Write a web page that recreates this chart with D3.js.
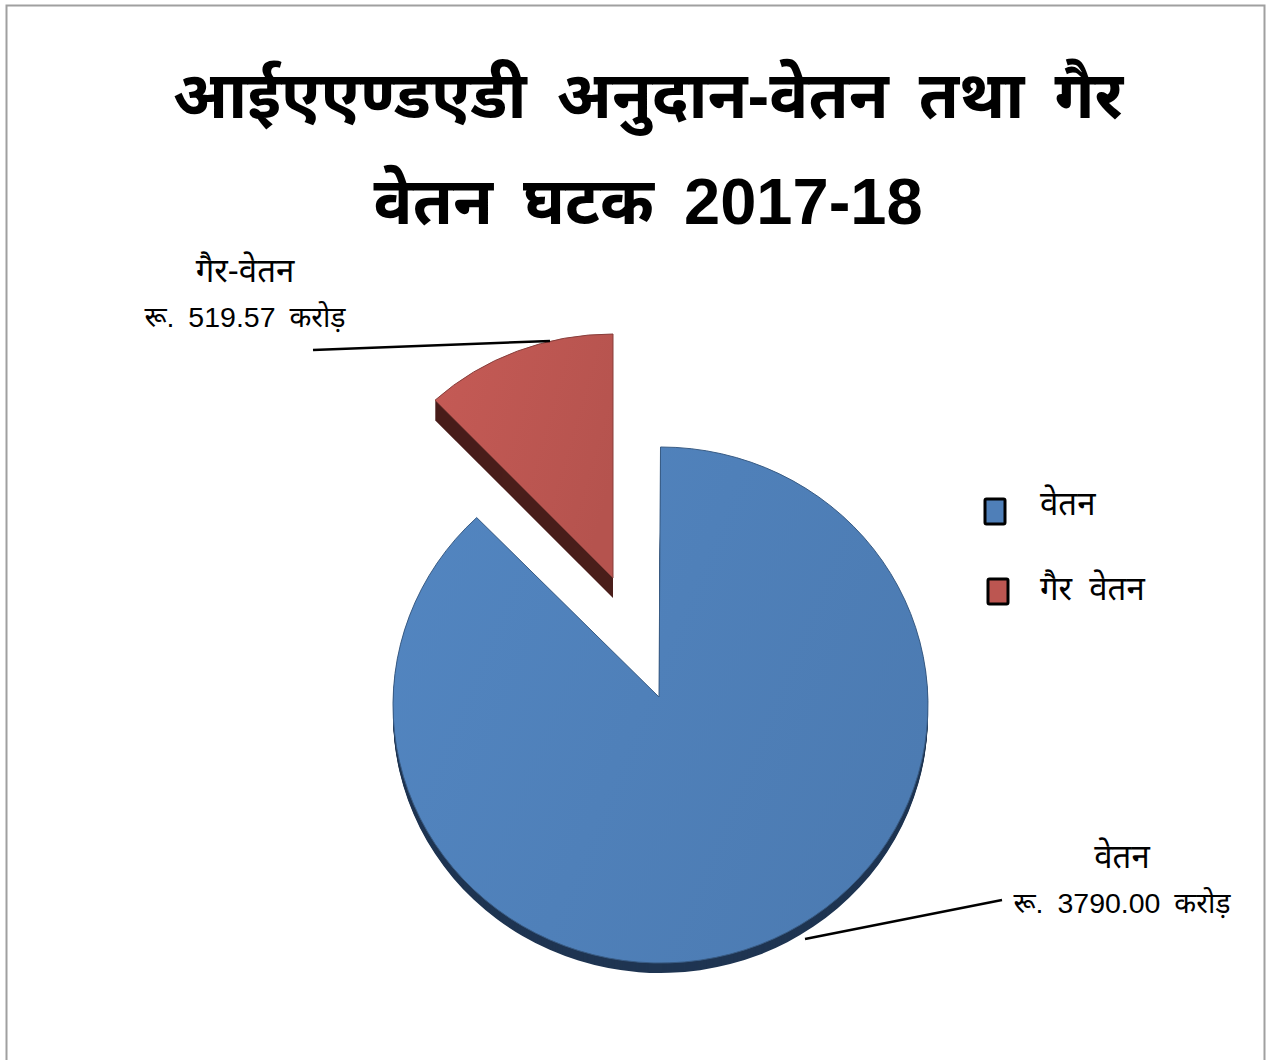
<!DOCTYPE html>
<html>
<head>
<meta charset="utf-8">
<script src="https://cdn.jsdelivr.net/npm/d3@7"></script>
<style>
  html, body { margin: 0; padding: 0; background: #fff; }
  svg { display: block; }
  text { font-family: "Liberation Sans", "Noto Sans", sans-serif; fill: #000; }
</style>
</head>
<body>
<svg width="1269" height="1060"></svg>
<script>
var categories = ["वेतन", "गैर वेतन"];
var values = [3790.00, 519.57];
var colors = ["#4f7fb8", "#bc5651"];
var sideColors = ["#1f3552", "#4a1e1b"];
var titleLines = ["आईएएण्डएडी अनुदान-वेतन तथा गैर", "वेतन घटक 2017-18"];
var labelNames = ["वेतन", "गैर-वेतन"];
var labelValues = ["रू. 3790.00 करोड़", "रू. 519.57 करोड़"];

var svg = d3.select("svg");

// frame
svg.append("path").attr("d", "M6.5,1060V5.5H1264.5V1060").attr("fill", "none").attr("stroke", "#a0a0a0").attr("stroke-width", 2);

svg.selectAll(".title").data(titleLines).enter().append("text")
  .attr("class", "title")
  .attr("x", 648)
  .attr("y", function (d, i) { return 118 + i * 106 })
  .attr("text-anchor", "middle")
  .attr("font-size", 65)
  .attr("font-weight", 700)
  .attr("word-spacing", 12)
  .text(function (d) { return d });

var pie = d3.pie().sort(null).value(function (d) { return d });
var arcs = pie(values);

// the picture has perspective, so apex and ellipse centre are not the same point
var shapes = [
  { apex: [659, 697], center: [660.5, 705], rx: 267.5, ry: 258, depth: 10 },
  { apex: [613, 578], center: [613, 576], rx: 259, ry: 242, depth: 20 }
];

function slicePath(d, s) {
  var x0 = s.center[0] + s.rx * Math.sin(d.startAngle),
    y0 = s.center[1] - s.ry * Math.cos(d.startAngle),
    x1 = s.center[0] + s.rx * Math.sin(d.endAngle),
    y1 = s.center[1] - s.ry * Math.cos(d.endAngle),
    large = d.endAngle - d.startAngle > Math.PI ? 1 : 0;
  return "M" + s.apex + "L" + x0 + "," + y0 + "A" + s.rx + "," + s.ry + " 0 " + large + " 1 " + x1 + "," + y1 + "Z";
}

var defs = svg.append("defs");
colors.forEach(function (c, i) {
  var g = defs.append("linearGradient").attr("id", "grad" + i).attr("x1", 0).attr("x2", 1).attr("y1", 0.2).attr("y2", 0.6);
  g.append("stop").attr("offset", "0%").attr("stop-color", d3.color(c).brighter(0.12));
  g.append("stop").attr("offset", "100%").attr("stop-color", d3.color(c).darker(0.1));
});

var g = svg.selectAll(".slice").data(arcs).enter().append("g").attr("class", "slice");
g.each(function (d, i) {
  var s = d3.select(this), shape = shapes[i];
  for (var k = shape.depth; k > 0; k--) {
    s.append("path")
      .attr("d", slicePath(d, shape))
      .attr("transform", "translate(0," + k + ")")
      .attr("fill", sideColors[i]);
  }
  s.append("path")
    .attr("d", slicePath(d, shape))
    .attr("fill", "url(#grad" + i + ")")
    .attr("stroke", d3.color(colors[i]).darker(0.9))
    .attr("stroke-width", 1);
});

// leader lines
var leaders = [[[1002, 900], [805, 939]], [[313, 350], [550, 341]]];
svg.selectAll(".leader").data(leaders).enter().append("path")
  .attr("class", "leader")
  .attr("d", d3.line())
  .attr("stroke", "#000")
  .attr("stroke-width", 2.5)
  .attr("fill", "none");

// data labels
var labelPos = [[1122, 868, 913], [245, 282, 327]];
labelPos.forEach(function (p, i) {
  svg.append("text").attr("x", p[0]).attr("y", p[1]).attr("text-anchor", "middle").attr("font-size", 33).text(labelNames[i]);
  svg.append("text").attr("x", p[0]).attr("y", p[2]).attr("text-anchor", "middle").attr("font-size", 28.5).attr("word-spacing", 6).text(labelValues[i]);
});

// legend
var legendPos = [[985, 499], [988, 579]];
categories.forEach(function (c, i) {
  svg.append("rect").attr("x", legendPos[i][0]).attr("y", legendPos[i][1]).attr("width", 20).attr("height", 25).attr("rx", 1.5)
    .attr("fill", colors[i]).attr("stroke", "#000").attr("stroke-width", 3);
  svg.append("text").attr("x", 1040).attr("y", 515 + i * 85).attr("font-size", 33).attr("word-spacing", 8).text(c);
});
</script>
</body>
</html>
